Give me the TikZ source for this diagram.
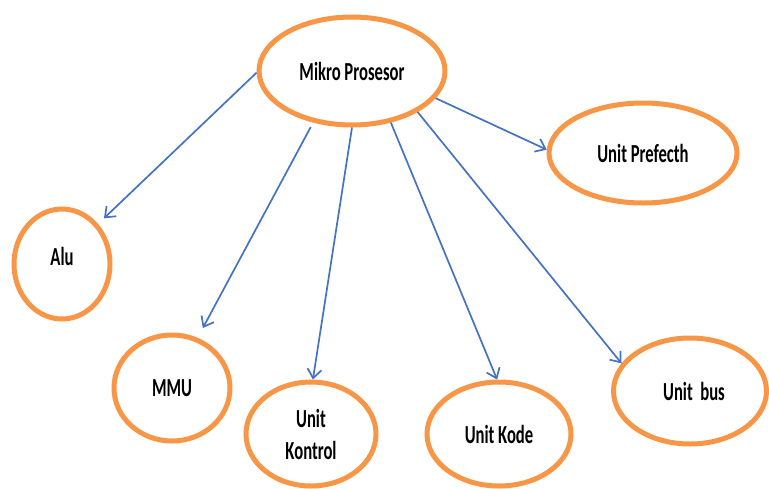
\documentclass[tikz,border=0pt]{standalone}
\usepackage{fontspec}
\setmainfont{Carlito}
\usepackage{graphicx}
\usetikzlibrary{shapes.geometric,arrows.meta}
\definecolor{orng}{RGB}{247,150,70}
\definecolor{blu}{RGB}{68,114,196}
\newcommand{\sq}[1]{\scalebox{0.64}[1]{#1}}
\tikzset{
  oval/.style={ellipse, draw=orng, line width=5pt, fill=white, inner sep=0pt,
    font=\fontsize{26}{32}\selectfont\bfseries, align=center},
  conn/.style={draw=blu, line width=1.7pt,
    -{Straight Barb[length=9pt,width=14pt,line width=1.7pt]}}
}
\begin{document}
\begin{tikzpicture}[x=1pt,y=-1pt]
\useasboundingbox (0,0) rectangle (769,488);
\node[oval, minimum width=186pt, minimum height=108pt] (mp) at (352,71) {\raisebox{-3pt}{\sq{Mikro Prosesor}}};
\node[oval, minimum width=188pt, minimum height=100pt] (pf) at (643,153) {\sq{Unit Prefecth}};
\node[oval, minimum width=96pt, minimum height=110pt] (alu) at (62,264) {\raisebox{16pt}{\sq{Alu}}};
\node[oval, minimum width=116pt, minimum height=106pt] (mmu) at (172,388) {\sq{MMU}};
\node[oval, minimum width=130pt, minimum height=104pt] (kon) at (311,434) {\sq{Unit}\\\sq{Kontrol}};
\node[oval, minimum width=144pt, minimum height=104pt] (kod) at (499,434) {\raisebox{-3pt}{\sq{Unit Kode}}};
\node[oval, minimum width=153pt, minimum height=106pt] (bus) at (690,391) {\hspace{8pt}\raisebox{-4pt}{\sq{Unit\ \ bus}}};
\draw[conn, shorten >=8pt] (mp.181) -- (alu.48);
\draw[conn, shorten <=5pt, shorten >=11pt] (mp.233) -- (mmu.63);
\draw[conn] (mp.270) -- (kon.88);
\draw[conn] (mp.307) -- (kod.92);
\draw[conn] (mp.328) -- (bus.158);
\draw[conn] (mp.342) -- (pf.178);
\end{tikzpicture}
\end{document}
